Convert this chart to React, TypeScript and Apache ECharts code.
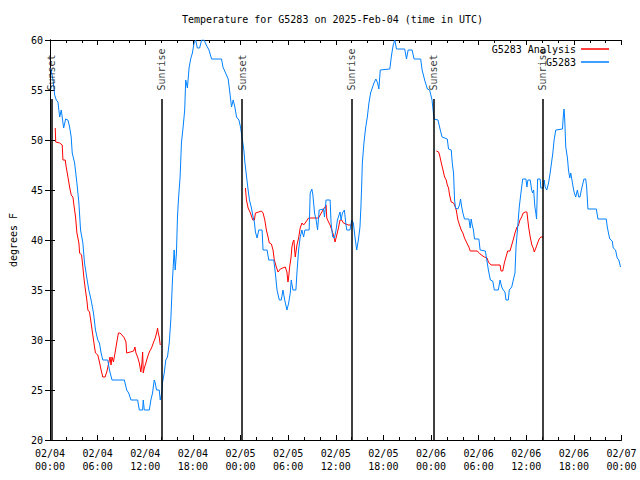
import React, { useEffect, useRef } from "react";
import * as echarts from "echarts";

// Hours since 02/04 00:00 UTC, temperature in degrees F
const obsHours = [0.09,0.38,0.59,0.79,1.0,1.22,1.42,1.72,1.97,2.26,2.47,2.67,2.80,3.10,3.39,3.64,3.85,4.14,4.35,4.64,4.89,5.18,5.48,5.73,6.02,6.23,6.44,6.65,7.28,7.49,7.81,9.37,9.66,9.91,10.20,11.04,11.25,11.67,11.75,11.88,12.51,12.71,12.92,13.13,13.26,13.42,13.76,13.89,14.09,14.17,14.39,14.59,14.80,15.02,15.22,15.43,15.64,15.77,15.93,16.06,16.18,16.39,16.56,16.77,16.97,17.10,17.31,17.52,17.72,17.94,18.15,18.35,18.56,18.85,19.10,19.41,19.69,20.03,20.36,21.61,21.79,22.12,22.45,22.62,22.87,23.08,23.29,23.50,23.80,24.00,24.21,24.42,24.55,24.71,24.96,25.13,25.38,25.59,25.75,25.88,26.09,26.30,26.72,26.84,27.35,27.56,28.19,28.39,28.60,28.89,29.14,29.35,29.57,29.85,30.07,30.27,30.39,30.61,30.98,31.11,31.32,31.52,31.74,31.95,32.11,32.65,32.78,32.99,33.12,33.33,33.53,33.71,33.91,34.46,34.58,34.78,35.29,35.41,35.62,35.84,36.04,36.21,36.54,36.67,36.84,37.09,37.26,37.38,37.79,38.01,38.22,38.42,38.64,38.85,39.05,39.17,39.26,39.35,39.55,39.76,39.98,40.18,40.39,40.60,40.81,41.06,41.27,41.43,41.61,42.81,43.03,43.24,43.44,43.65,44.69,44.91,45.12,45.62,45.87,46.70,46.88,47.20,47.54,47.83,48.13,48.38,48.88,49.08,49.39,50.05,50.21,50.55,50.68,50.84,50.97,51.09,51.39,51.59,51.72,51.89,52.02,52.22,52.77,52.94,53.06,53.19,53.35,53.48,54.03,54.19,54.85,55.03,55.23,55.48,55.78,55.98,56.48,56.70,56.91,57.11,57.32,57.45,57.74,57.86,58.17,58.37,58.58,58.71,58.92,59.12,59.33,59.55,59.96,60.08,60.21,60.50,60.68,60.80,60.93,61.09,61.21,61.30,61.43,61.75,61.84,62.13,62.26,62.38,62.59,62.81,63.01,63.18,63.35,63.51,63.72,64.56,64.68,64.76,64.85,64.98,65.19,65.32,65.48,65.61,65.82,66.02,66.23,66.44,66.61,66.77,66.94,67.15,67.27,67.49,67.61,67.77,68.83,69.03,70.08,70.21,70.41,70.53,70.83,70.96,71.25,71.46,71.66,71.88];
const obsTemps = [57.2,56,54.5,54,53.8,52.3,53,51.2,52.1,52,51.3,50.3,48.7,47.7,45.7,43.7,41,39.7,37.7,36.2,35,34,32.7,31,30,29.7,28.7,28,28,27,26,26,25,24.7,24,24,23,23,24,23,23,24,24.7,26,25.7,25,25,24,24.7,25.7,26.7,28,28.3,29.7,32,36,39,37,38.7,42.3,44,46.3,49.7,51.3,53,56,55.2,57.2,58.1,58.7,59.7,60,59.2,59.2,60,60,59.5,59,58.1,58.1,57.3,56.7,56.1,55,53.3,54,53.3,52.3,52,51.3,50.2,49,47.8,46.7,45,44,43.2,42.3,41.8,40.8,40.2,41,41,39,39,38,38,36.7,35,34,34,35,34,33,33.7,34.7,36,35,35,36.7,39,40.3,41,40.3,41,41,44.7,45.1,44.5,42.7,42,41,43,43.1,42.3,44,44,41.7,40.3,40.2,41,42,42.8,42,42.7,43,41.7,41,41,42,41.7,40.3,39,40,41.3,43.3,45.3,47.7,49.7,51.2,52.3,53.7,54.7,55.2,55.7,56.1,55.7,55.1,57,57.1,58.5,59.5,60,59.1,59.1,58.1,59,59,58.1,58.1,57,56,55.1,55,54,52.1,52,51.3,50.3,50.1,49.1,49,47.7,46.7,44,43.2,43.1,43.5,44.1,43.2,42.7,42.1,42.1,41.2,42.1,41.5,41,40.1,40.1,39,38.9,38,37,36,35.9,35,35,36,35.3,35,34.8,34,34,35,35.3,36,36.7,39.3,41.3,43.3,44.7,46.1,46.1,45.3,46,46,45,44.7,45,43.3,42.7,42.1,46.1,46.1,45.2,45.2,46,45.3,45,45.7,46.7,47.7,48.7,50,51,51.1,52.5,53.1,52,49.3,48.2,47,46.2,46.7,45.7,44.8,44.3,45,44.3,44.3,45,45.7,46.1,46.1,45.3,43.1,43.1,42.1,42.1,41.3,40.5,40.1,39.9,39.2,39,38.2,38,37.3];

const anaNight1Hours = [0.66,0.72,1.22,1.54,1.63,1.92,2.04,2.26,2.47,2.67,2.89,3.01,3.22,3.39,3.64,3.73,3.98,4.14,4.26,4.43,4.64,4.77,4.98,5.18,5.39,5.61,5.73,6.02,6.23,6.44,6.65,6.94,7.15,7.40,7.56,7.69,7.81,7.99,8.19,8.40,8.62,8.82,9.07,9.37,9.57,9.66,10.12,10.54,10.70,10.83,11.04,11.25,11.45,11.58,11.67,11.75,11.88,12.08,12.29,12.51,12.79,13.01,13.26,13.46,13.55,13.64,13.76,13.89];
const anaNight1Temps = [51.2,49.8,49.7,49.5,48,48,47.3,46.3,45.3,44.5,44.3,43.5,42.3,40.7,39.7,38.7,38.5,37.3,36.3,35.2,34,33,32.8,31.7,30.5,29.3,28.7,28.5,27.8,27,26.3,26.3,26.8,27.7,28.3,27.5,28.3,27.8,28.7,29.7,30.7,30.7,30.5,30.2,29.8,28.7,28.8,28.9,29.3,28.7,28.3,27.7,26.8,27.7,28.8,26.7,27.2,27.7,28.3,28.8,29.2,29.7,30.2,30.8,31.2,30.7,30.3,29.5];
const anaNight2Hours = [24.62,24.75,24.96,25.25,25.55,25.75,25.88,26.30,26.63,26.84,27.06,27.26,27.47,27.63,27.89,28.10,28.26,28.51,28.73,29.01,29.31,29.64,29.85,29.98,30.07,30.19,30.36,30.48,30.61,30.73,30.82,30.90,31.02,31.11,31.32,31.52,31.74,31.95,32.15,32.58,33.40,33.83,34.03,34.25,34.46,34.66,34.78,34.87,35.09,35.29,35.50,35.71,35.91,36.13,36.34,36.54,36.75,36.97,37.26,37.59,38.01];
const anaNight2Temps = [45.2,44,43.2,42.7,42,42,42.7,42.8,42.9,42.7,42,41,40.3,39.7,39.6,39,38,37.3,36.8,37.1,37.2,37.3,36.8,35.8,36.3,37.3,38.2,39.3,39.8,40,39,38.3,39,39.5,40.2,41.2,41.7,41.5,41.7,42.2,42.2,42.2,42.5,42.8,43.1,43.3,43.5,42.2,41.8,41.5,41,40.5,39.8,40.5,41.2,42,42,41.7,41.6,41.5,41.5];
const anaNight3Hours = [48.67,48.96,49.08,49.30,49.51,49.71,49.92,50.05,50.21,50.34,50.55,50.84,50.97,51.18,51.39,51.59,51.81,52.02,52.22,52.52,52.77,52.94,53.81,54.10,54.32,54.73,55.07,55.23,55.57,56.70,56.82,57.04,57.24,57.45,57.66,57.95,58.17,58.42,58.58,58.83,58.99,59.21,59.42,59.62,59.87,60.08,60.30,60.50,60.71,60.88,61.01,61.21,61.43,61.63,61.84,62.13];
const anaNight3Temps = [48.9,48.8,48.5,47.7,47,46.3,46,45.5,45.2,44.5,43.8,43.7,43.5,43,42,41.5,41,40.7,40.2,39.7,39.3,38.9,38.9,38.7,38.5,38.3,38.2,37.8,37.5,37.5,36.9,36.9,37.7,38.3,38.9,38.9,39.5,40.2,40.7,41.3,41.4,42,42.3,42.7,42.8,42.8,41.3,40.3,39.5,39.2,38.8,39.2,39.7,40.1,40.3,40.3];

const sunEventHours = [0.16, 14.08, 24.21, 38.03, 48.31, 62.1];
const sunEventNames = ["Sunset", "Sunrise", "Sunset", "Sunrise", "Sunset", "Sunrise"];
const sunLineTop = 54.1;
const sunLabelBase = 54.8;

const yTickValues = [20, 25, 30, 35, 40, 45, 50, 55, 60];

const FONT = "DejaVu Sans Mono";

function zip(h: number[], t: number[]) {
  return h.map((v, i) => [v, t[i]]);
}

export default function App() {
  const ref = useRef<HTMLDivElement>(null);
  useEffect(() => {
    document.body.style.margin = "0";
    if (!ref.current) return;
    const chart = echarts.init(ref.current, undefined, { renderer: "svg" });
    const analysisData: any[] = [
      ...zip(anaNight1Hours, anaNight1Temps),
      [19, null],
      ...zip(anaNight2Hours, anaNight2Temps),
      [43, null],
      ...zip(anaNight3Hours, anaNight3Temps),
    ];
    const tickCommon = {
      axisLine: { show: true, lineStyle: { color: "#000", width: 1 } },
      axisTick: { show: true, inside: true, length: 5, lineStyle: { color: "#000", width: 1 } },
      minorTick: { show: true, splitNumber: 3, length: 3, lineStyle: { color: "#000", width: 1 } },
      splitLine: { show: false },
    };
    const xLabel = (v: number) => {
      const day = 4 + Math.floor(v / 24);
      const hr = v % 24;
      return "02/0" + day + "\n" + String(hr).padStart(2, "0") + ":00";
    };
    chart.setOption({
      animation: false,
      backgroundColor: "#fff",
      textStyle: { fontFamily: FONT },
      title: {
        text: "Temperature for G5283 on 2025-Feb-04 (time in UTC)",
        left: 332.5,
        textAlign: "center",
        top: 14,
        padding: 0,
        textStyle: { fontFamily: FONT, fontSize: 10, fontWeight: "normal", color: "#000" },
      },
      legend: {
        orient: "vertical",
        right: 31,
        top: 42.5,
        padding: 0,
        itemGap: 0,
        align: "right",
        icon: "rect",
        itemWidth: 28,
        itemHeight: 1.5,
        data: ["G5283 Analysis", "G5283"],
        textStyle: { fontFamily: FONT, fontSize: 10, color: "#000", lineHeight: 13 },
      },
      grid: { left: 47, right: 18.5, top: 40, bottom: 40 },
      xAxis: [
        {
          type: "value",
          min: 0,
          max: 72,
          interval: 6,
          position: "bottom",
          ...tickCommon,
          axisLabel: {
            formatter: xLabel,
            fontFamily: FONT,
            fontSize: 10,
            color: "#000",
            lineHeight: 13,
            margin: 7,
            showMinLabel: true,
            showMaxLabel: true,
          },
        },
        {
          type: "value",
          min: 0,
          max: 72,
          interval: 6,
          position: "top",
          ...tickCommon,
          axisLabel: { show: false },
        },
      ],
      yAxis: [
        {
          type: "value",
          min: yTickValues[0],
          max: yTickValues[yTickValues.length - 1],
          interval: 5,
          position: "left",
          ...tickCommon,
          minorTick: { show: false },
          name: "degrees F",
          nameLocation: "middle",
          nameRotate: 90,
          nameGap: 32,
          nameTextStyle: { fontFamily: FONT, fontSize: 10, color: "#000" },
          axisLabel: { fontFamily: FONT, fontSize: 10, color: "#000", margin: 7 },
        },
        {
          type: "value",
          min: yTickValues[0],
          max: yTickValues[yTickValues.length - 1],
          interval: 5,
          position: "right",
          ...tickCommon,
          minorTick: { show: false },
          axisLabel: { show: false },
        },
      ],
      series: [
        {
          name: "G5283 Analysis",
          type: "line",
          data: analysisData,
          showSymbol: false,
          symbol: "none",
          connectNulls: false,
          color: "#ff0000",
          lineStyle: { color: "#ff0000", width: 1 },
          z: 2,
        },
        {
          name: "G5283",
          type: "line",
          data: zip(obsHours, obsTemps),
          showSymbol: false,
          symbol: "none",
          color: "#0080ff",
          lineStyle: { color: "#0080ff", width: 1 },
          z: 3,
          markLine: {
            silent: true,
            symbol: ["none", "none"],
            label: { show: false },
            lineStyle: { color: "#000", width: 1.5, type: "solid" },
            data: sunEventHours.map((h) => [
              { coord: [h, yTickValues[0]] },
              { coord: [h, sunLineTop] },
            ]),
          },
        },
        {
          name: "sun",
          type: "scatter",
          data: sunEventHours.map((h, i) => ({ value: [h, sunLabelBase], name: sunEventNames[i] })),
          symbolSize: 0,
          silent: true,
          z: 4,
          label: {
            show: true,
            position: "inside",
            rotate: 90,
            align: "left",
            verticalAlign: "middle",
            offset: [1.5, 0],
            formatter: (p: any) => p.name,
            fontFamily: FONT,
            fontSize: 10,
            color: "#000",
          },
        },
      ],
    });
    return () => chart.dispose();
  }, []);
  return <div ref={ref} style={{ width: 640, height: 480 }} />;
}
